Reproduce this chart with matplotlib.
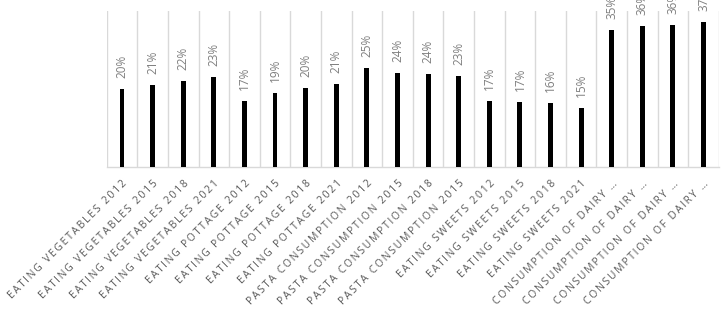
import matplotlib.pyplot as plt
import numpy as np

# category labels as shown on the x-axis
categories = [
    "EATING VEGETABLES 2012", "EATING VEGETABLES 2015", "EATING VEGETABLES 2018", "EATING VEGETABLES 2021",
    "EATING POTTAGE 2012", "EATING POTTAGE 2015", "EATING POTTAGE 2018", "EATING POTTAGE 2021",
    "PASTA CONSUMPTION 2012", "PASTA CONSUMPTION 2015", "PASTA CONSUMPTION 2018", "PASTA CONSUMPTION 2015",
    "EATING SWEETS 2012", "EATING SWEETS 2015", "EATING SWEETS 2018", "EATING SWEETS 2021",
    "CONSUMPTION OF DAIRY \u2026", "CONSUMPTION OF DAIRY \u2026", "CONSUMPTION OF DAIRY \u2026", "CONSUMPTION OF DAIRY \u2026",
]
# share in percent
values = [20.0, 21.0, 22.0, 23.0, 17.0, 19.0, 20.2, 21.3, 25.3, 24.0,
          23.8, 23.2, 16.8, 16.7, 16.4, 15.0, 35.0, 36.2, 36.3, 37.2]

label_gray = "#7f7f7f"
tick_gray = "#595959"
grid = "#d9d9d9"


def spaced(s):
    # Excel-style letter spacing for the axis labels
    return "\u2009".join(s)


fig = plt.figure(figsize=(7.21, 3.11), dpi=100)
ax = fig.add_axes([0.148, 0.463, 0.849, 0.502])

x = np.arange(len(values))
ax.bar(x, values, width=0.16, color="black", zorder=3)

# data labels, rotated, above each bar
for xi, v in zip(x, values):
    ax.annotate(f"{v:.0f}%", (xi, v), xytext=(0, 8), textcoords="offset points",
                rotation=90, ha="center", va="bottom", color=label_gray,
                fontsize=8.5, family="Open Sans", annotation_clip=False)

ax.set_xlim(-0.5, len(values) - 0.5)
ax.set_ylim(0, 40)
ax.set_yticks([])

# vertical separators between categories
ax.set_xticks(np.arange(-0.5, len(values), 1), minor=True)
ax.grid(which="minor", axis="x", color=grid, linewidth=1, zorder=0)
ax.tick_params(which="minor", length=0)

ax.set_xticks(x)
ax.set_xticklabels([spaced(c) for c in categories], rotation=45, ha="right",
                   rotation_mode="anchor", fontsize=7.5,
                   family=["Open Sans", "DejaVu Sans"], color=tick_gray)
ax.tick_params(axis="x", which="major", length=0, pad=8)

for side in ["top", "right", "left"]:
    ax.spines[side].set_visible(False)
ax.spines["bottom"].set_color(grid)
ax.spines["bottom"].set_linewidth(1)

fig.savefig("out.png", dpi=100)
